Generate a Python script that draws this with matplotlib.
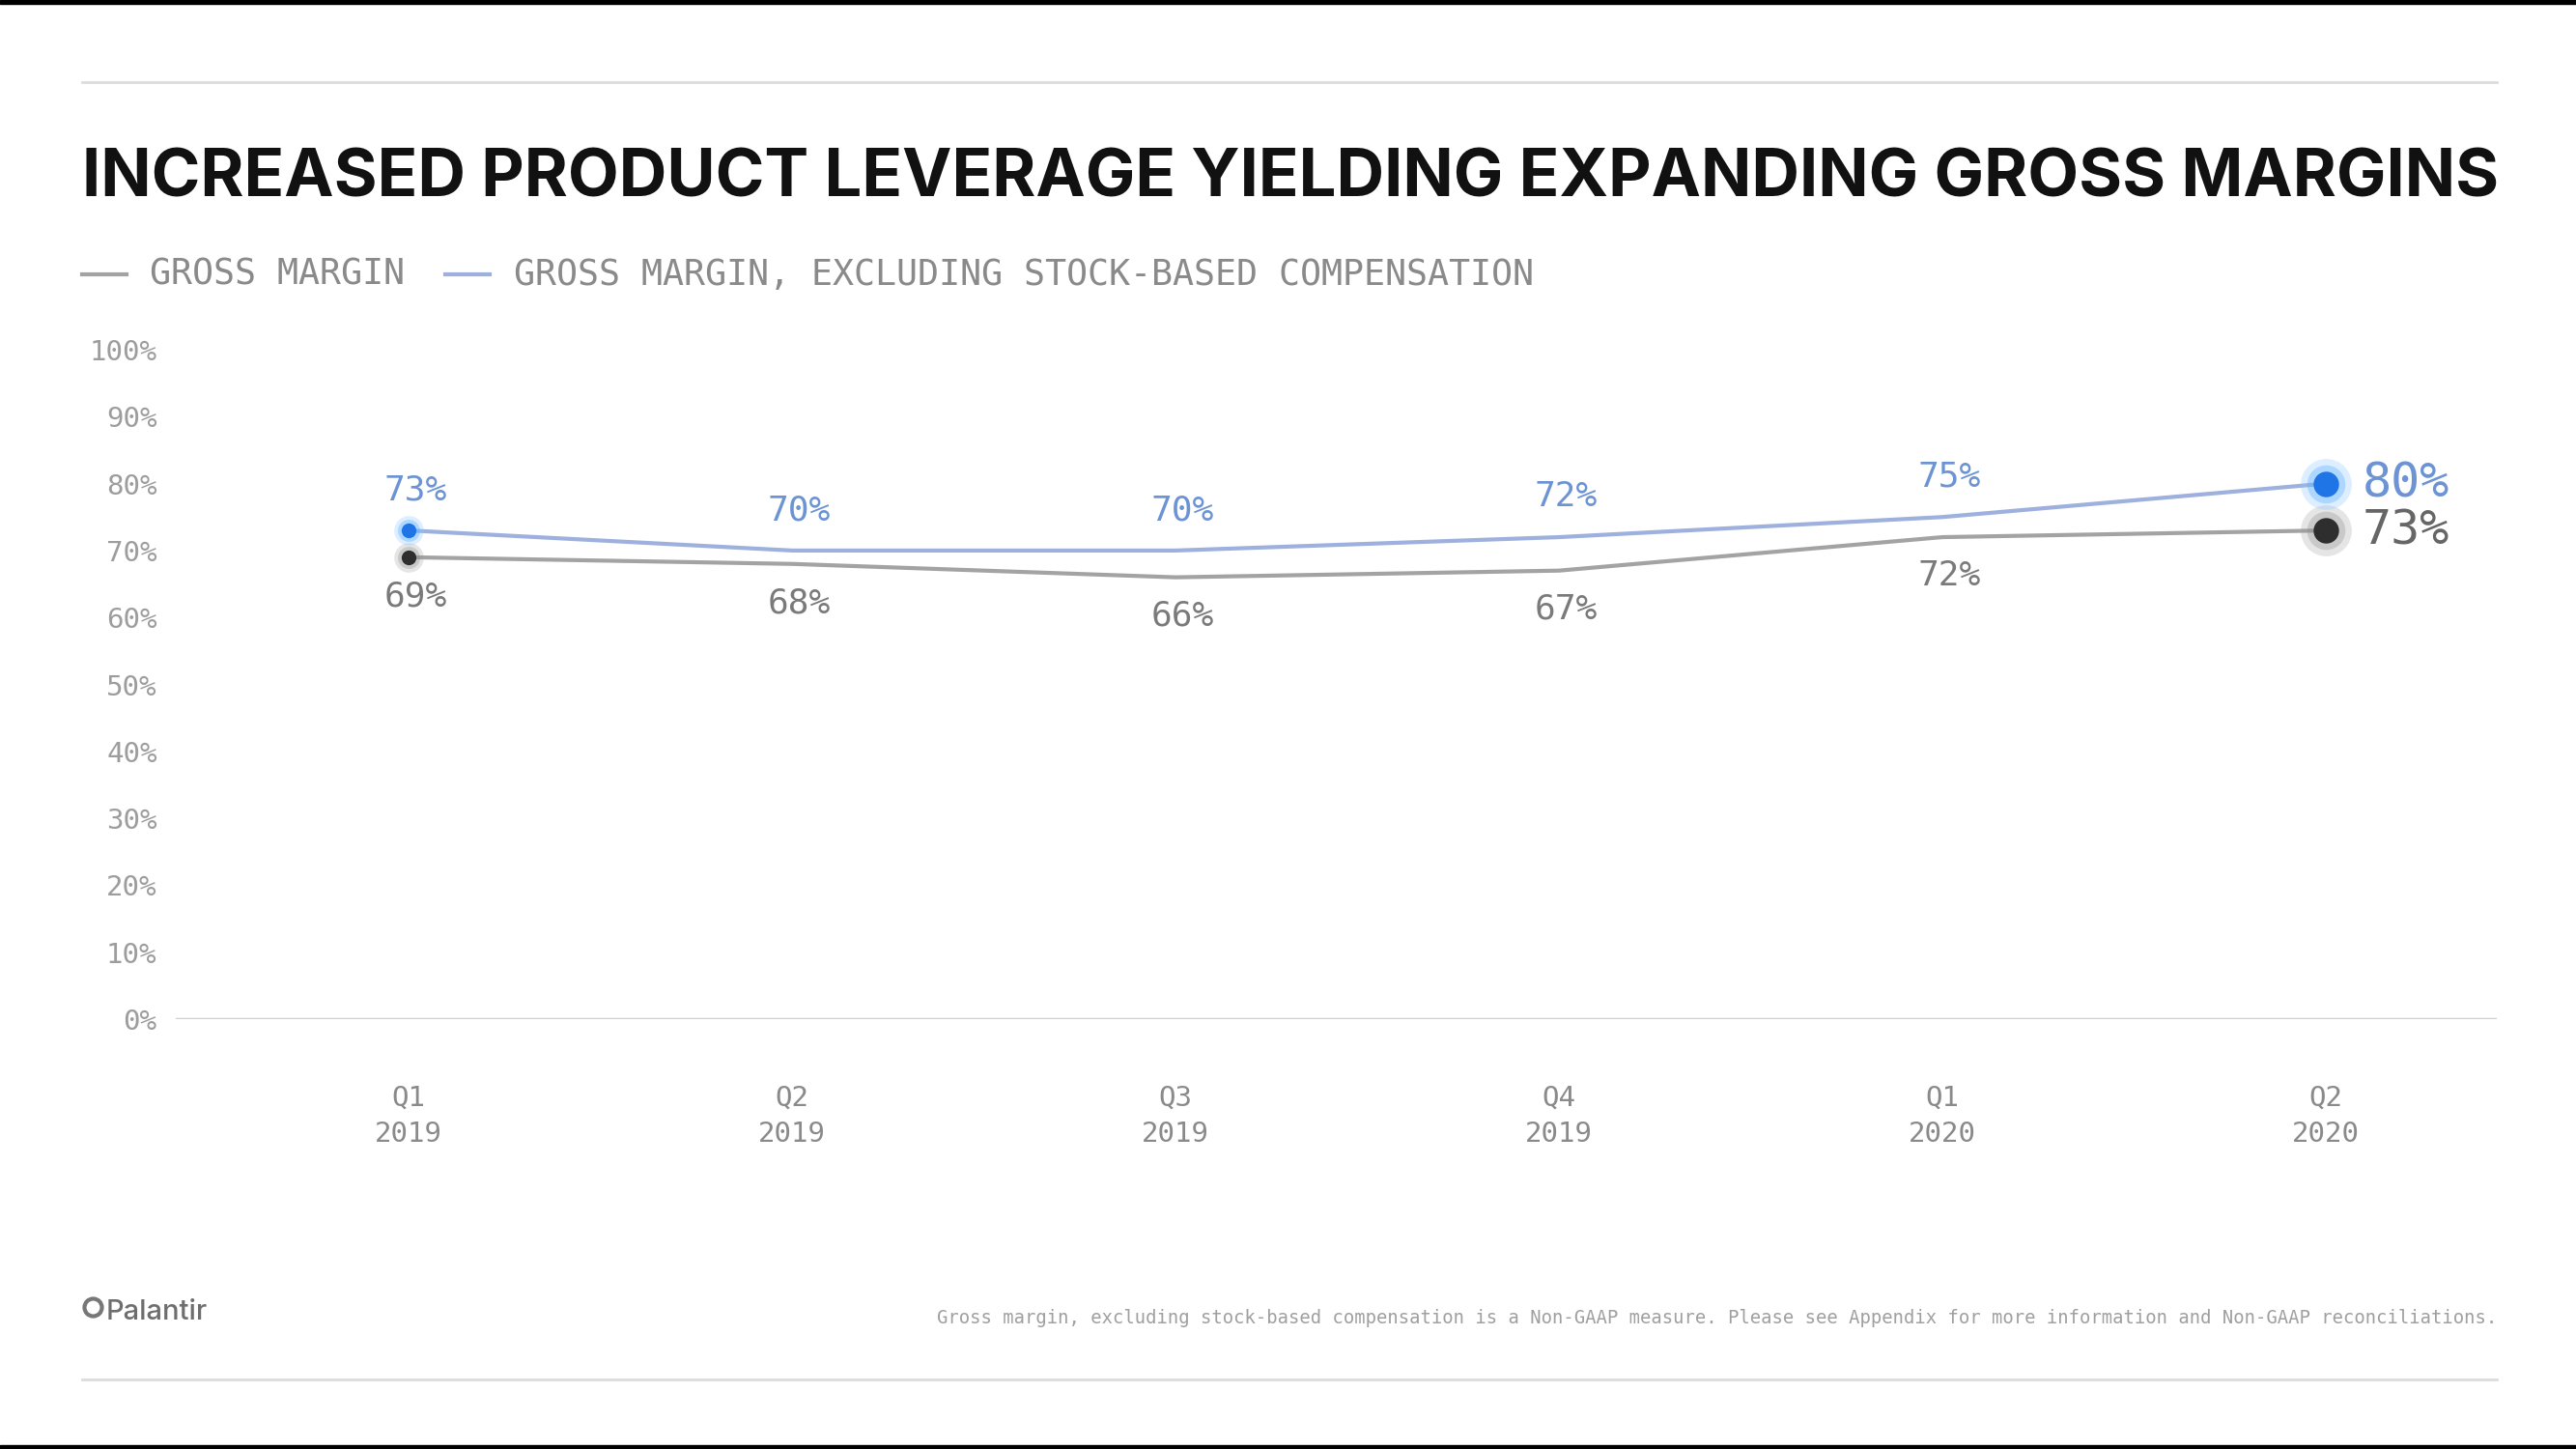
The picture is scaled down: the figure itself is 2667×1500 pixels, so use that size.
import matplotlib.pyplot as plt
from matplotlib.lines import Line2D
from matplotlib.patches import Rectangle

quarters = ["Q1\n2019", "Q2\n2019", "Q3\n2019", "Q4\n2019", "Q1\n2020", "Q2\n2020"]
gross_margin = [69, 68, 66, 67, 72, 73]
gross_margin_ex_sbc = [73, 70, 70, 72, 75, 80]
y_ticks = [0, 10, 20, 30, 40, 50, 60, 70, 80, 90, 100]

title = "INCREASED PRODUCT LEVERAGE YIELDING EXPANDING GROSS MARGINS"
label_gm = "GROSS MARGIN"
label_ex = "GROSS MARGIN, EXCLUDING STOCK-BASED COMPENSATION"
footnote = ("Gross margin, excluding stock-based compensation is a Non-GAAP measure. "
            "Please see Appendix for more information and Non-GAAP reconciliations.")

GREY_LINE = "#a3a3a3"
BLUE_LINE = "#9db0de"
BLUE_DOT = "#1f74e6"
DARK_DOT = "#2e2e2e"
BLUE_TXT = "#6c93d4"
GREY_TXT = "#7a7a7a"
MONO = "DejaVu Sans Mono"

W, H = 2667, 1500
fig = plt.figure(figsize=(W / 100, H / 100), dpi=100)


def fx(px):
    return px / W


def fy(px):
    return 1 - px / H


# frame bars and rules
fig.patches.append(Rectangle((0, fy(4)), 1, 4 / H, transform=fig.transFigure, color="black"))
fig.patches.append(Rectangle((0, 0), 1, 4 / H, transform=fig.transFigure, color="black"))
for yy in (85, 1428):
    fig.add_artist(Line2D([fx(85), fx(2585)], [fy(yy), fy(yy)], color="#dcdcdc", lw=2,
                          transform=fig.transFigure))

# title
fig.text(fx(85), fy(204), title, fontsize=49.5, fontweight="bold", family="Inter",
         color="#111111", ha="left", va="baseline")

# legend
fig.add_artist(Line2D([fx(85), fx(131)], [fy(284), fy(284)], color=GREY_LINE, lw=3,
                      transform=fig.transFigure))
fig.text(fx(155), fy(284), label_gm, fontsize=26.4, family=MONO, color="#8a8a8a",
         ha="left", va="center")
fig.add_artist(Line2D([fx(461), fx(507)], [fy(284), fy(284)], color=BLUE_LINE, lw=3,
                      transform=fig.transFigure))
fig.text(fx(532), fy(284), label_ex, fontsize=26.4, family=MONO, color="#8a8a8a",
         ha="left", va="center")

# chart
ax = fig.add_axes([fx(182), fy(1055), fx(2585) - fx(182), fy(362) - fy(1055)])
x = list(range(len(quarters)))

ax.plot(x, gross_margin, color=GREY_LINE, lw=3, solid_capstyle="round", zorder=2)
ax.plot(x, gross_margin_ex_sbc, color=BLUE_LINE, lw=3, solid_capstyle="round", zorder=2)

# glowing dots on first and last points
for i, core, glow in [(0, 11, 22), (len(x) - 1, 19, 38)]:
    ax.plot(x[i], gross_margin[i], "o", ms=glow, color="#9a9a9a", alpha=0.25, mec="none", zorder=3)
    ax.plot(x[i], gross_margin[i], "o", ms=glow * 0.75, color="#8a8a8a", alpha=0.3, mec="none", zorder=3)
    ax.plot(x[i], gross_margin[i], "o", ms=core, color=DARK_DOT, mec="none", zorder=4)
    ax.plot(x[i], gross_margin_ex_sbc[i], "o", ms=glow, color="#8cc8ff", alpha=0.3, mec="none", zorder=3)
    ax.plot(x[i], gross_margin_ex_sbc[i], "o", ms=glow * 0.75, color="#5aaeff", alpha=0.35, mec="none", zorder=3)
    ax.plot(x[i], gross_margin_ex_sbc[i], "o", ms=core, color=BLUE_DOT, mec="none", zorder=4)

# value labels
for i in x[:-1]:
    ax.annotate(f"{gross_margin_ex_sbc[i]}%", (x[i], gross_margin_ex_sbc[i]), xytext=(5, 30),
                textcoords="offset points", ha="center", va="center", fontsize=26,
                family=MONO, color=BLUE_TXT)
    ax.annotate(f"{gross_margin[i]}%", (x[i], gross_margin[i]), xytext=(5, -29),
                textcoords="offset points", ha="center", va="center", fontsize=26,
                family=MONO, color=GREY_TXT)
last = x[-1]
ax.annotate(f"{gross_margin_ex_sbc[last]}%", (last, gross_margin_ex_sbc[last]), xytext=(27, 0),
            textcoords="offset points", ha="left", va="center", fontsize=36,
            family=MONO, color=BLUE_TXT)
ax.annotate(f"{gross_margin[last]}%", (last, gross_margin[last]), xytext=(27, 0),
            textcoords="offset points", ha="left", va="center", fontsize=36,
            family=MONO, color="#666666")

ax.axhline(0, color="#d0d0d0", lw=2.5, zorder=1)
ax.set_xlim(-0.608, 5.446)
ax.set_ylim(0, 100)
ax.set_yticks(y_ticks)
ax.set_yticklabels([f"{v}%" for v in y_ticks])
ax.set_xticks(x)
ax.set_xticklabels(quarters, linespacing=1.4)
ax.tick_params(axis="y", length=0, pad=14, labelsize=21, labelcolor="#9d9d9d")
ax.tick_params(axis="x", length=0, pad=49, labelsize=21, labelcolor="#8a8a8a")
for lab in ax.get_xticklabels() + ax.get_yticklabels():
    lab.set_family(MONO)
for s in ax.spines.values():
    s.set_visible(False)
ax.patch.set_alpha(0)

# footer
fig.add_artist(Line2D([fx(96)], [fy(1353)], marker="o", ms=13, mfc="none", mec="#777777",
                      mew=3, transform=fig.transFigure))
fig.text(fx(110), fy(1358), "Palantir", fontsize=21, family="Inter", fontweight="medium",
         color="#6e6e6e", ha="left", va="center")
fig.text(fx(2585), fy(1364), footnote, fontsize=13.6, family=MONO, color="#a0a0a0",
         ha="right", va="center")

fig.savefig("out.png", dpi=100)
